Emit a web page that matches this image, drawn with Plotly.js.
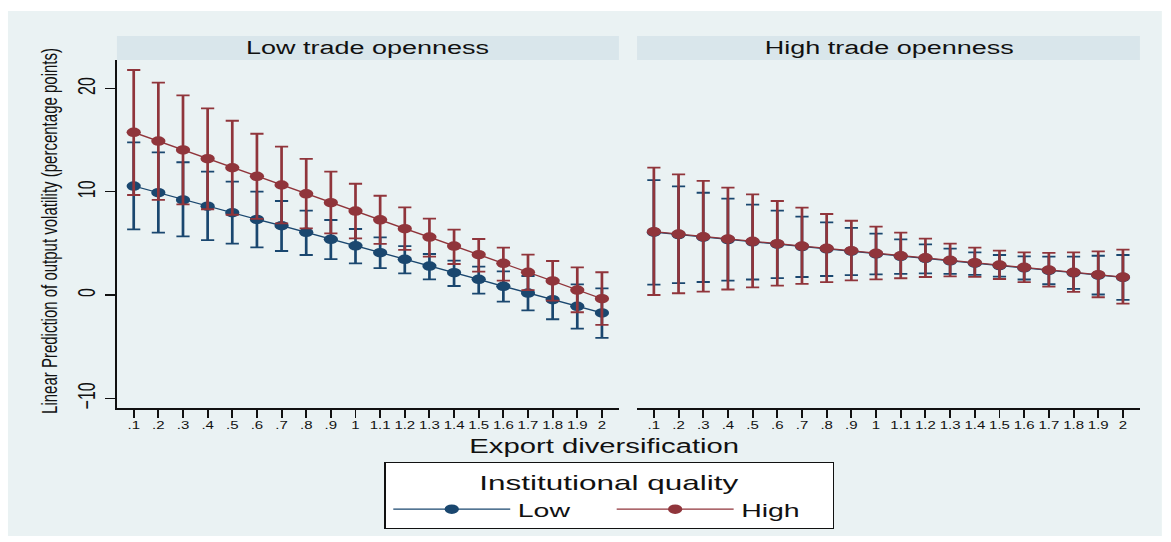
<!DOCTYPE html>
<html>
<head>
<meta charset="utf-8">
<script src="https://cdn.plot.ly/plotly-3.0.1.min.js"></script>
<style>
  html, body { margin: 0; padding: 0; background: #ffffff; overflow: hidden; }
  #wrap { width: 1171px; height: 542px; overflow: hidden; position: relative; }
  #chart { width: 781px; height: 542px; transform: scaleX(1.49936); transform-origin: 0 0; }
</style>
</head>
<body>
<div id="wrap"><div id="chart"></div></div>
<script>
// ---- data ----
const exportDiv = [0.1,0.2,0.3,0.4,0.5,0.6,0.7,0.8,0.9,1.0,1.1,1.2,1.3,1.4,1.5,1.6,1.7,1.8,1.9,2.0];
const xTickText = ['.1','.2','.3','.4','.5','.6','.7','.8','.9','1','1.1','1.2','1.3','1.4','1.5','1.6','1.7','1.8','1.9','2'];
const yTickVals = [-10, 0, 10, 20];
const panelTitles = ['Low trade openness', 'High trade openness'];
const seriesNames = ['Low', 'High'];

// Low trade openness, Low institutional quality
const lowOpenLowIQ    = [10.55, 9.90, 9.20, 8.60, 7.97, 7.32, 6.71, 6.07, 5.39, 4.76, 4.10, 3.45, 2.80, 2.16, 1.52, 0.84, 0.19, -0.45, -1.10, -1.74];
const lowOpenLowIQHi  = [14.78, 13.80, 12.85, 11.94, 10.97, 10.00, 9.10, 8.16, 7.26, 6.39, 5.57, 4.74, 3.97, 3.32, 2.74, 2.29, 1.84, 1.44, 1.03, 0.65];
const lowOpenLowIQLo  = [6.36, 6.03, 5.68, 5.32, 4.97, 4.61, 4.26, 3.87, 3.48, 3.07, 2.60, 2.10, 1.52, 0.87, 0.13, -0.65, -1.48, -2.35, -3.26, -4.16];
// Low trade openness, High institutional quality
const lowOpenHighIQ   = [15.75, 14.90, 14.04, 13.20, 12.32, 11.49, 10.65, 9.80, 8.94, 8.12, 7.28, 6.42, 5.61, 4.74, 3.90, 3.07, 2.20, 1.36, 0.48, -0.36];
const lowOpenHighIQHi = [21.78, 20.55, 19.33, 18.07, 16.87, 15.61, 14.36, 13.17, 11.94, 10.77, 9.61, 8.49, 7.39, 6.32, 5.42, 4.58, 3.90, 3.29, 2.68, 2.20];
const lowOpenHighIQLo = [9.68, 9.20, 8.78, 8.30, 7.77, 7.37, 6.94, 6.45, 5.97, 5.49, 4.94, 4.36, 3.71, 3.00, 2.26, 1.39, 0.48, -0.55, -1.67, -2.90];
// High trade openness, Low institutional quality
const highOpenLowIQ   = [6.08, 5.85, 5.59, 5.37, 5.15, 4.92, 4.69, 4.47, 4.24, 3.98, 3.74, 3.55, 3.31, 3.08, 2.85, 2.63, 2.37, 2.15, 1.92, 1.70];
const highOpenLowIQHi = [11.13, 10.52, 9.90, 9.32, 8.74, 8.16, 7.58, 7.03, 6.49, 5.94, 5.39, 4.90, 4.48, 4.13, 3.87, 3.74, 3.71, 3.71, 3.80, 3.87];
const highOpenLowIQLo = [1.00, 1.14, 1.26, 1.39, 1.50, 1.63, 1.74, 1.84, 1.93, 2.00, 2.04, 2.10, 2.05, 1.94, 1.78, 1.50, 1.04, 0.59, 0.05, -0.47];
// High trade openness, High institutional quality
const highOpenHighIQ   = [6.13, 5.90, 5.64, 5.42, 5.20, 4.97, 4.74, 4.52, 4.29, 4.03, 3.79, 3.60, 3.36, 3.13, 2.90, 2.68, 2.42, 2.20, 1.97, 1.74];
const highOpenHighIQHi = [12.33, 11.68, 11.04, 10.39, 9.74, 9.10, 8.45, 7.84, 7.19, 6.61, 6.03, 5.45, 4.97, 4.58, 4.29, 4.13, 4.07, 4.13, 4.23, 4.39];
const highOpenHighIQLo = [0.00, 0.17, 0.33, 0.53, 0.73, 0.90, 1.08, 1.25, 1.42, 1.52, 1.62, 1.74, 1.80, 1.76, 1.55, 1.25, 0.82, 0.30, -0.22, -0.83];

// ---- styling ----
const BLUE = '#1a476f';
const RED = '#90353b';
const FONT = 'Liberation Sans, Arial, Helvetica, sans-serif';
const W = 781, H = 542;

function mkTrace(y, hi, lo, color, name, xa, ya, showleg) {
  return {
    type: 'scatter', mode: 'lines+markers',
    x: exportDiv, y: y, name: name,
    xaxis: xa, yaxis: ya, showlegend: showleg, legendgroup: name,
    line: { color: color, width: 1.3 },
    marker: { color: color, size: 9.5, symbol: 'circle' },
    error_y: {
      type: 'data', symmetric: false, visible: true,
      array: hi.map((v, i) => v - y[i]),
      arrayminus: lo.map((v, i) => y[i] - v),
      color: color, thickness: 1.8, width: 4.4
    }
  };
}

const traces = [
  mkTrace(lowOpenLowIQ, lowOpenLowIQHi, lowOpenLowIQLo, BLUE, seriesNames[0], 'x', 'y', true),
  mkTrace(lowOpenHighIQ, lowOpenHighIQHi, lowOpenHighIQLo, RED, seriesNames[1], 'x', 'y', true),
  mkTrace(highOpenLowIQ, highOpenLowIQHi, highOpenLowIQLo, BLUE, seriesNames[0], 'x2', 'y2', false),
  mkTrace(highOpenHighIQ, highOpenHighIQHi, highOpenHighIQLo, RED, seriesNames[1], 'x2', 'y2', false)
];

const px = v => v / W;           // unscaled x pixel -> paper
const py = v => (H - v) / H;     // y pixel -> paper

const dom1 = [px(78.0), px(412.8)];
const dom2 = [px(424.9), px(760.3)];
const ydom = [py(408), py(60)];
const xr = [0.032, 2.069];
const yr = [-10.94, 22.75];

const xaxisBase = {
  range: xr, tickmode: 'array', tickvals: exportDiv, ticktext: xTickText,
  ticks: 'outside', ticklen: 8, tickwidth: 1.3, tickcolor: '#111', tickangle: 0,
  showline: true, linecolor: '#111', linewidth: 1.5,
  showgrid: false, zeroline: false,
  tickfont: { family: FONT, size: 10, color: '#111' },
  fixedrange: true
};
const yaxisBase = {
  range: yr, tickmode: 'array', tickvals: yTickVals,
  showgrid: true, gridcolor: '#eaf2f3', gridwidth: 1.5, zeroline: false,
  fixedrange: true
};

const layout = {
  width: W, height: H,
  margin: { l: 0, r: 0, t: 0, b: 0 },
  paper_bgcolor: '#ffffff', plot_bgcolor: '#ffffff',
  font: { family: FONT, color: '#111' },
  xaxis: Object.assign({}, xaxisBase, { domain: dom1, anchor: 'y' }),
  xaxis2: Object.assign({}, xaxisBase, { domain: dom2, anchor: 'y2' }),
  yaxis: Object.assign({}, yaxisBase, {
    domain: ydom, anchor: 'x',
    ticks: 'outside', ticklen: 6.7, tickwidth: 1.3, tickcolor: '#111',
    showline: true, linecolor: '#111', linewidth: 1.3,
    tickangle: -90, tickfont: { family: FONT, size: 16, color: '#111' }
  }),
  yaxis2: Object.assign({}, yaxisBase, {
    domain: ydom, anchor: 'x2', matches: 'y',
    showticklabels: false, ticks: '', showline: false
  }),
  showlegend: true,
  legend: {
    orientation: 'h', x: px(406.3), xanchor: 'center', y: py(462), yanchor: 'top',
    bgcolor: '#ffffff', bordercolor: '#111', borderwidth: 1,
    font: { family: FONT, size: 19, color: '#111' },
    title: { text: 'Institutional quality', side: 'top center', font: { family: FONT, size: 21, color: '#111' } },
    itemwidth: 78, entrywidth: 56, traceorder: 'normal', itemclick: false, itemdoubleclick: false
  },
  shapes: [
    { type: 'rect', xref: 'paper', yref: 'paper', layer: 'below',
      x0: px(5.3), x1: px(774.9), y0: py(536), y1: py(11),
      fillcolor: '#eaf2f3', line: { width: 0 } },
    { type: 'rect', xref: 'paper', yref: 'paper', layer: 'below',
      x0: dom1[0], x1: dom1[1], y0: py(60), y1: py(36),
      fillcolor: '#d9e6eb', line: { width: 0 } },
    { type: 'rect', xref: 'paper', yref: 'paper', layer: 'below',
      x0: dom2[0], x1: dom2[1], y0: py(60), y1: py(36),
      fillcolor: '#d9e6eb', line: { width: 0 } }
  ],
  annotations: [
    { text: panelTitles[0], xref: 'paper', yref: 'paper', x: (dom1[0] + dom1[1]) / 2, y: py(48),
      xanchor: 'center', yanchor: 'middle', showarrow: false, font: { family: FONT, size: 18, color: '#111' } },
    { text: panelTitles[1], xref: 'paper', yref: 'paper', x: (dom2[0] + dom2[1]) / 2, y: py(48),
      xanchor: 'center', yanchor: 'middle', showarrow: false, font: { family: FONT, size: 18, color: '#111' } },
    { text: 'Export diversification', xref: 'paper', yref: 'paper', x: px(402.8), y: py(446),
      xanchor: 'center', yanchor: 'middle', showarrow: false, font: { family: FONT, size: 19.5, color: '#111' } },
    { text: 'Linear Prediction of output volatility (percentage points)', xref: 'paper', yref: 'paper',
      x: px(32), y: py(231), xanchor: 'center', yanchor: 'middle', textangle: -90, showarrow: false,
      font: { family: FONT, size: 15, color: '#111' } }
  ]
};

Plotly.newPlot('chart', traces, layout, { displayModeBar: false, staticPlot: true, responsive: false });
</script>
</body>
</html>
